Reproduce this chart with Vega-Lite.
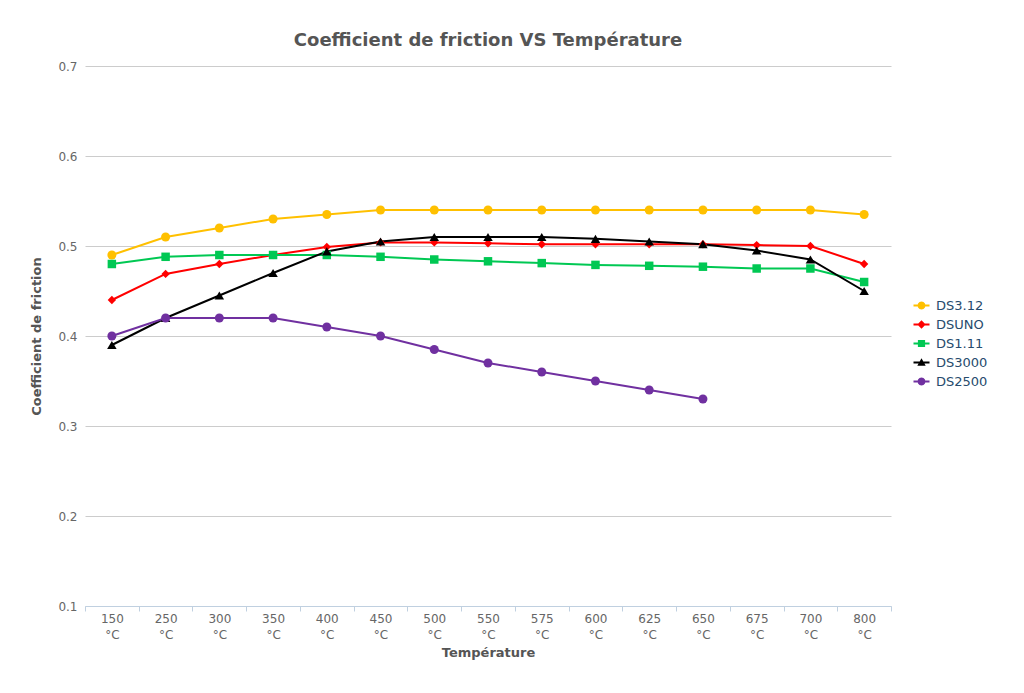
{
  "$schema": "https://vega.github.io/schema/vega-lite/v6.json",
  "autosize": "none",
  "width": 806,
  "height": 540,
  "padding": {"left": 85, "top": 66, "right": 133, "bottom": 87},
  "background": "white",
  "title": {
    "text": "Coefficient de friction VS Température",
    "font": "DejaVu Sans",
    "fontSize": 18,
    "fontWeight": "bold",
    "color": "#555555",
    "anchor": "middle",
    "offset": 10
  },
  "config": {
    "view": {"stroke": null},
    "font": "DejaVu Sans"
  },
  "data": {
    "values": [
      {"t": "150 °C", "s": "DS3.12", "v": 0.49},
      {"t": "250 °C", "s": "DS3.12", "v": 0.51},
      {"t": "300 °C", "s": "DS3.12", "v": 0.52},
      {"t": "350 °C", "s": "DS3.12", "v": 0.53},
      {"t": "400 °C", "s": "DS3.12", "v": 0.535},
      {"t": "450 °C", "s": "DS3.12", "v": 0.54},
      {"t": "500 °C", "s": "DS3.12", "v": 0.54},
      {"t": "550 °C", "s": "DS3.12", "v": 0.54},
      {"t": "575 °C", "s": "DS3.12", "v": 0.54},
      {"t": "600 °C", "s": "DS3.12", "v": 0.54},
      {"t": "625 °C", "s": "DS3.12", "v": 0.54},
      {"t": "650 °C", "s": "DS3.12", "v": 0.54},
      {"t": "675 °C", "s": "DS3.12", "v": 0.54},
      {"t": "700 °C", "s": "DS3.12", "v": 0.54},
      {"t": "800 °C", "s": "DS3.12", "v": 0.535},
      {"t": "150 °C", "s": "DSUNO", "v": 0.44},
      {"t": "250 °C", "s": "DSUNO", "v": 0.469},
      {"t": "300 °C", "s": "DSUNO", "v": 0.48},
      {"t": "350 °C", "s": "DSUNO", "v": 0.49},
      {"t": "400 °C", "s": "DSUNO", "v": 0.499},
      {"t": "450 °C", "s": "DSUNO", "v": 0.504},
      {"t": "500 °C", "s": "DSUNO", "v": 0.504},
      {"t": "550 °C", "s": "DSUNO", "v": 0.503},
      {"t": "575 °C", "s": "DSUNO", "v": 0.502},
      {"t": "600 °C", "s": "DSUNO", "v": 0.502},
      {"t": "625 °C", "s": "DSUNO", "v": 0.502},
      {"t": "650 °C", "s": "DSUNO", "v": 0.502},
      {"t": "675 °C", "s": "DSUNO", "v": 0.501},
      {"t": "700 °C", "s": "DSUNO", "v": 0.5},
      {"t": "800 °C", "s": "DSUNO", "v": 0.48},
      {"t": "150 °C", "s": "DS1.11", "v": 0.48},
      {"t": "250 °C", "s": "DS1.11", "v": 0.488},
      {"t": "300 °C", "s": "DS1.11", "v": 0.49},
      {"t": "350 °C", "s": "DS1.11", "v": 0.49},
      {"t": "400 °C", "s": "DS1.11", "v": 0.49},
      {"t": "450 °C", "s": "DS1.11", "v": 0.488},
      {"t": "500 °C", "s": "DS1.11", "v": 0.485},
      {"t": "550 °C", "s": "DS1.11", "v": 0.483},
      {"t": "575 °C", "s": "DS1.11", "v": 0.481},
      {"t": "600 °C", "s": "DS1.11", "v": 0.479},
      {"t": "625 °C", "s": "DS1.11", "v": 0.478},
      {"t": "650 °C", "s": "DS1.11", "v": 0.477},
      {"t": "675 °C", "s": "DS1.11", "v": 0.475},
      {"t": "700 °C", "s": "DS1.11", "v": 0.475},
      {"t": "800 °C", "s": "DS1.11", "v": 0.46},
      {"t": "150 °C", "s": "DS3000", "v": 0.39},
      {"t": "250 °C", "s": "DS3000", "v": 0.42},
      {"t": "300 °C", "s": "DS3000", "v": 0.445},
      {"t": "350 °C", "s": "DS3000", "v": 0.47},
      {"t": "400 °C", "s": "DS3000", "v": 0.494},
      {"t": "450 °C", "s": "DS3000", "v": 0.505},
      {"t": "500 °C", "s": "DS3000", "v": 0.51},
      {"t": "550 °C", "s": "DS3000", "v": 0.51},
      {"t": "575 °C", "s": "DS3000", "v": 0.51},
      {"t": "600 °C", "s": "DS3000", "v": 0.508},
      {"t": "625 °C", "s": "DS3000", "v": 0.505},
      {"t": "650 °C", "s": "DS3000", "v": 0.502},
      {"t": "675 °C", "s": "DS3000", "v": 0.495},
      {"t": "700 °C", "s": "DS3000", "v": 0.485},
      {"t": "800 °C", "s": "DS3000", "v": 0.45},
      {"t": "150 °C", "s": "DS2500", "v": 0.4},
      {"t": "250 °C", "s": "DS2500", "v": 0.42},
      {"t": "300 °C", "s": "DS2500", "v": 0.42},
      {"t": "350 °C", "s": "DS2500", "v": 0.42},
      {"t": "400 °C", "s": "DS2500", "v": 0.41},
      {"t": "450 °C", "s": "DS2500", "v": 0.4},
      {"t": "500 °C", "s": "DS2500", "v": 0.385},
      {"t": "550 °C", "s": "DS2500", "v": 0.37},
      {"t": "575 °C", "s": "DS2500", "v": 0.36},
      {"t": "600 °C", "s": "DS2500", "v": 0.35},
      {"t": "625 °C", "s": "DS2500", "v": 0.34},
      {"t": "650 °C", "s": "DS2500", "v": 0.33}
    ]
  },
  "encoding": {
    "x": {
      "field": "t",
      "type": "ordinal",
      "sort": null,
      "bandPosition": 0.5,
      "scale": {"type": "band", "paddingInner": 0, "paddingOuter": 0},
      "axis": {
        "title": "Température",
        "titleFont": "DejaVu Sans",
        "titleFontSize": 13,
        "titleFontWeight": "bold",
        "titleColor": "#555555",
        "titlePadding": 6,
        "labelAngle": 0,
        "labelExpr": "split(datum.label, ' ')",
        "labelFontSize": 12,
        "labelColor": "#666666",
        "labelLineHeight": 16,
        "labelPadding": 2,
        "tickBand": "extent",
        "ticks": true,
        "tickSize": 5,
        "tickColor": "#c0d0e0",
        "domainColor": "#c0d0e0",
        "domainWidth": 1,
        "grid": false
      }
    },
    "y": {
      "field": "v",
      "type": "quantitative",
      "scale": {"domain": [0.1, 0.7], "nice": false, "zero": false},
      "axis": {
        "title": "Coefficient de friction",
        "titleFont": "DejaVu Sans",
        "titleFontSize": 13,
        "titleFontWeight": "bold",
        "titleColor": "#555555",
        "titlePadding": 14,
        "values": [0.1, 0.2, 0.3, 0.4, 0.5, 0.6, 0.7],
        "format": ".1f",
        "labelFontSize": 12,
        "labelColor": "#666666",
        "labelPadding": 8,
        "ticks": false,
        "domain": false,
        "grid": true,
        "gridColor": "#cccccc",
        "gridWidth": 1
      }
    },
    "color": {
      "field": "s",
      "type": "nominal",
      "scale": {
        "domain": ["DS3.12", "DSUNO", "DS1.11", "DS3000", "DS2500"],
        "range": ["#ffc000", "#ff0000", "#00c853", "#000000", "#7030a0"]
      },
      "legend": {
        "title": null,
        "orient": "none",
        "legendX": 830,
        "legendY": 233,
        "symbolSize": 64,
        "symbolStrokeWidth": 0,
        "labelFont": "DejaVu Sans",
        "labelFontSize": 13,
        "labelColor": "#274b6d",
        "labelOffset": 8,
        "rowPadding": 5
      }
    }
  },
  "layer": [
    {
      "mark": {"type": "line", "strokeWidth": 2}
    },
    {
      "transform": [{"filter": "datum.s === 'DS3.12'"}],
      "mark": {"type": "point", "filled": true, "shape": "circle", "size": 81, "opacity": 1}
    },
    {
      "transform": [{"filter": "datum.s === 'DSUNO'"}],
      "mark": {"type": "point", "filled": true, "shape": "diamond", "size": 70, "opacity": 1}
    },
    {
      "transform": [{"filter": "datum.s === 'DS1.11'"}],
      "mark": {"type": "point", "filled": true, "shape": "square", "size": 72, "opacity": 1}
    },
    {
      "transform": [{"filter": "datum.s === 'DS3000'"}],
      "mark": {"type": "point", "filled": true, "shape": "triangle-up", "size": 90, "opacity": 1}
    },
    {
      "transform": [{"filter": "datum.s === 'DS2500'"}],
      "mark": {"type": "point", "filled": true, "shape": "circle", "size": 81, "opacity": 1}
    },
    {
      "mark": {"type": "point", "filled": true, "size": 0, "opacity": 1},
      "encoding": {
        "shape": {
          "field": "s",
          "type": "nominal",
          "legend": null,
          "scale": {
            "domain": ["DS3.12", "DSUNO", "DS1.11", "DS3000", "DS2500"],
            "range": [
              "M-2,-0.25H2V0.25H-2Z M1,0L0.866,0.5L0.5,0.866L0,1L-0.5,0.866L-0.866,0.5L-1,0L-0.866,-0.5L-0.5,-0.866L0,-1L0.5,-0.866L0.866,-0.5Z",
              "M-2,-0.25H2V0.25H-2Z M0,-1.05L1.05,0L0,1.05L-1.05,0Z",
              "M-2,-0.25H2V0.25H-2Z M-0.9,-0.9H0.9V0.9H-0.9Z",
              "M-2,-0.25H2V0.25H-2Z M0,-1.05L1.05,0.8H-1.05Z",
              "M-2,-0.25H2V0.25H-2Z M1,0L0.866,0.5L0.5,0.866L0,1L-0.5,0.866L-0.866,0.5L-1,0L-0.866,-0.5L-0.5,-0.866L0,-1L0.5,-0.866L0.866,-0.5Z"
            ]
          }
        }
      }
    }
  ]
}
